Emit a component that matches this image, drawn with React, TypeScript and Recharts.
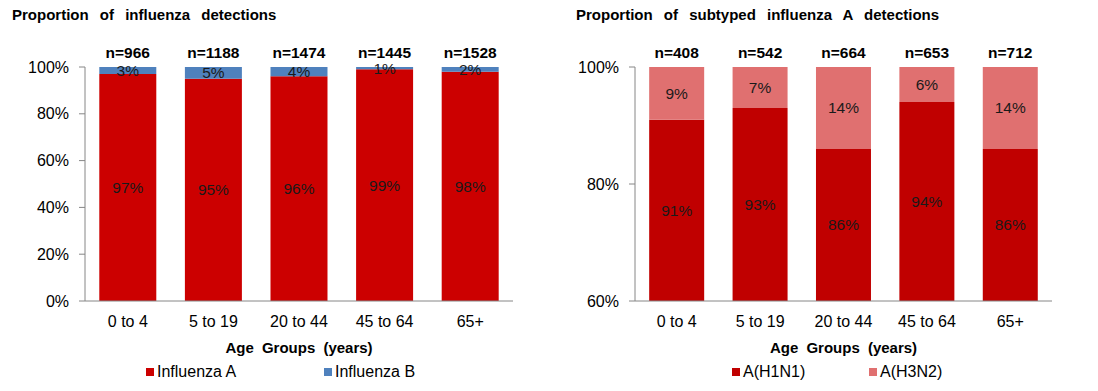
import React from 'react';
import { BarChart, Bar, XAxis, YAxis, Legend, LabelList } from 'recharts';

const ageGroups = ['0 to 4', '5 to 19', '20 to 44', '45 to 64', '65+'];
const influenzaA = [97, 95, 96, 99, 98];
const influenzaB = [3, 5, 4, 1, 2];
const totalDetections = [966, 1188, 1474, 1445, 1528];

const h1n1 = [91, 93, 86, 94, 86];
const h3n2 = [9, 7, 14, 6, 14];
const totalSubtyped = [408, 542, 664, 653, 712];

const leftTicks = [0, 20, 40, 60, 80, 100];
const rightTicks = [60, 80, 100];
const edgeTicks = [0, 1, 2, 3, 4, 5];

const FONT = '"Liberation Sans", Arial, sans-serif';
const AXIS_GRAY = '#868686';

const leftData = ageGroups.map((age, i) => ({
  age,
  a: influenzaA[i],
  b: influenzaB[i],
  n: `n=${totalDetections[i]}`,
}));

const rightData = ageGroups.map((age, i) => ({
  age,
  h1: h1n1[i],
  h3: h3n2[i],
  n: `n=${totalSubtyped[i]}`,
}));

const pct = (v: number) => `${v}%`;

function makeLegend(itemWidth: number) {
  return function LegendContent({ payload }: any) {
    return (
      <div style={{ display: 'flex', fontFamily: FONT, fontSize: 16, color: '#000' }}>
        {(payload || []).map((p: any) => (
          <div key={p.value} style={{ width: itemWidth, display: 'flex', alignItems: 'center' }}>
            <span style={{ width: 8, height: 8, background: p.color, marginRight: 3, display: 'inline-block' }} />
            <span>{p.value}</span>
          </div>
        ))}
      </div>
    );
  };
}

const titleStyle: React.CSSProperties = {
  position: 'absolute',
  top: 6,
  fontFamily: FONT,
  fontWeight: 'bold',
  fontSize: 15,
  wordSpacing: 7,
  color: '#000',
  whiteSpace: 'nowrap',
};

const valueLabel = { fill: '#1a1a1a', fontSize: 15.5, fontFamily: FONT };
const nLabel = { fill: '#000', fontSize: 15.5, fontWeight: 'bold', fontFamily: FONT };
const tickStyle = { fill: '#000', fontSize: 16, fontFamily: FONT };

function AgeAxes() {
  return null;
}

export default function App() {
  return (
    <div style={{ position: 'absolute', left: 0, top: 0, width: 1098, height: 391, background: '#fff' }}>
      <div style={{ ...titleStyle, left: 12 }}>Proportion of influenza detections</div>
      <div style={{ ...titleStyle, left: 576 }}>Proportion of subtyped influenza A detections</div>

      <div style={{ position: 'absolute', left: 0, top: 0 }}>
        <BarChart width={560} height={391} data={leftData} barCategoryGap="16.7%"
          margin={{ top: 67, right: 47, bottom: 34, left: 0 }}>
          <XAxis xAxisId="edges" type="number" domain={[0, 5]} ticks={edgeTicks} height={0}
            axisLine={false} tickLine={{ stroke: AXIS_GRAY }} tickSize={5} tickFormatter={() => ''} />
          <XAxis dataKey="age" height={56} tickLine={false} tickSize={0} tickMargin={15}
            axisLine={{ stroke: AXIS_GRAY }} tick={tickStyle}
            label={{ value: 'Age Groups (years)', position: 'insideBottom', offset: 4,
              style: { fontWeight: 'bold', fontSize: 15, wordSpacing: 4, fill: '#000', fontFamily: FONT } }} />
          <YAxis width={85} domain={[0, 100]} ticks={leftTicks} tickFormatter={pct}
            axisLine={{ stroke: AXIS_GRAY }} tickLine={{ stroke: AXIS_GRAY }} tickSize={6} tickMargin={10}
            tick={tickStyle} />
          <Legend verticalAlign="middle" content={makeLegend(178)}
            wrapperStyle={{ top: 363, left: 146, width: 'auto' }} />
          <Bar dataKey="a" name="Influenza A" stackId="s" fill="#CC0000" isAnimationActive={false}>
            <LabelList dataKey="a" position="center" formatter={pct} style={valueLabel} />
          </Bar>
          <Bar dataKey="b" name="Influenza B" stackId="s" fill="#4F81BD" isAnimationActive={false}>
            <LabelList dataKey="b" position="center" formatter={pct} style={valueLabel} />
            <LabelList dataKey="n" position="top" offset={9} style={nLabel} />
          </Bar>
        </BarChart>
      </div>

      <div style={{ position: 'absolute', left: 550, top: 0 }}>
        <BarChart width={548} height={391} data={rightData} barCategoryGap="17%"
          margin={{ top: 67, right: 46, bottom: 34, left: 0 }}>
          <XAxis xAxisId="edges" type="number" domain={[0, 5]} ticks={edgeTicks} height={0}
            axisLine={false} tickLine={{ stroke: AXIS_GRAY }} tickSize={5} tickFormatter={() => ''} />
          <XAxis dataKey="age" height={56} tickLine={false} tickSize={0} tickMargin={15}
            axisLine={{ stroke: AXIS_GRAY }} tick={tickStyle}
            label={{ value: 'Age Groups (years)', position: 'insideBottom', offset: 4,
              style: { fontWeight: 'bold', fontSize: 15, wordSpacing: 4, fill: '#000', fontFamily: FONT } }} />
          <YAxis width={85} domain={[60, 100]} allowDataOverflow ticks={rightTicks} tickFormatter={pct}
            axisLine={{ stroke: AXIS_GRAY }} tickLine={{ stroke: AXIS_GRAY }} tickSize={6} tickMargin={10}
            tick={tickStyle} />
          <Legend verticalAlign="middle" content={makeLegend(137)}
            wrapperStyle={{ top: 363, left: 182, width: 'auto' }} />
          <Bar dataKey="h1" name="A(H1N1)" stackId="s" fill="#C00000" isAnimationActive={false}>
            <LabelList dataKey="h1" position="center" formatter={pct} style={valueLabel} />
          </Bar>
          <Bar dataKey="h3" name="A(H3N2)" stackId="s" fill="#E07070" isAnimationActive={false}>
            <LabelList dataKey="h3" position="center" formatter={pct} style={valueLabel} />
            <LabelList dataKey="n" position="top" offset={9} style={nLabel} />
          </Bar>
        </BarChart>
      </div>
    </div>
  );
}
